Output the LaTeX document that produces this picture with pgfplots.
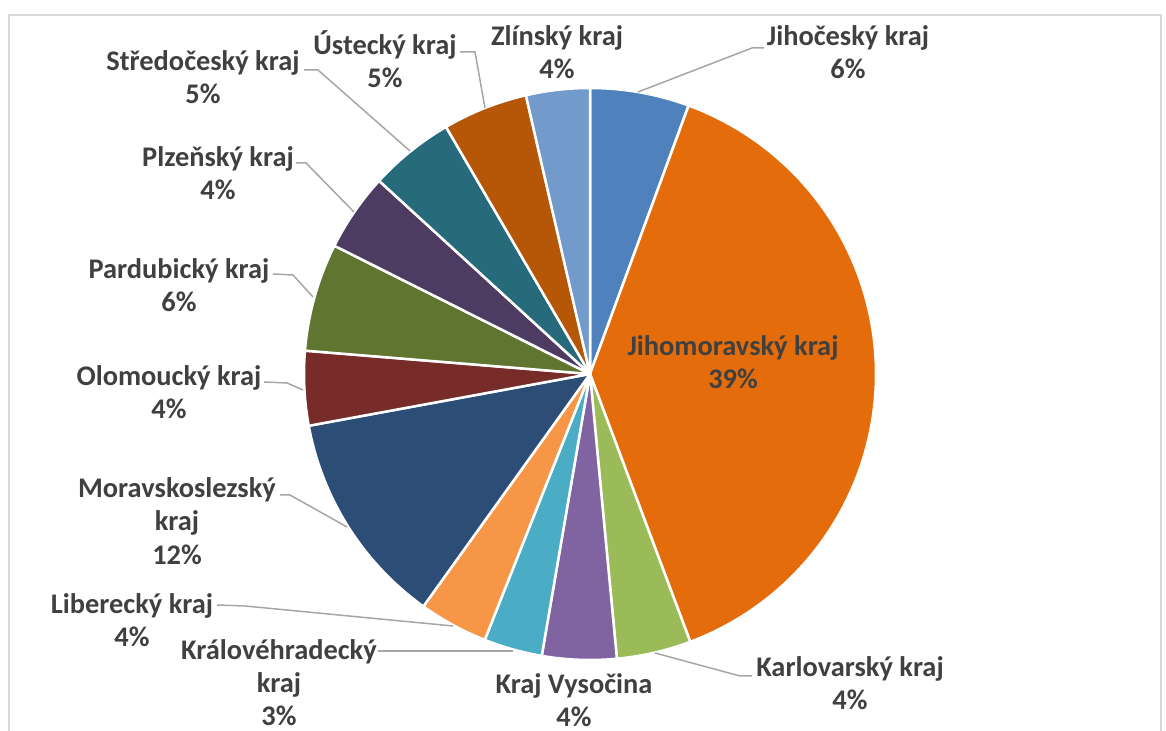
\documentclass[border=0pt]{standalone}
\usepackage{pgfplots}
\usepackage{pgfplotstable}
\pgfplotsset{compat=1.18}
\usepackage{fontspec}
\setmainfont{Carlito}
\definecolor{s0}{HTML}{4F81BD}
\definecolor{s1}{HTML}{E46C0A}
\definecolor{s2}{HTML}{9BBB59}
\definecolor{s3}{HTML}{8064A2}
\definecolor{s4}{HTML}{4BACC6}
\definecolor{s5}{HTML}{F79646}
\definecolor{s6}{HTML}{2C4D75}
\definecolor{s7}{HTML}{772C2A}
\definecolor{s8}{HTML}{5F7530}
\definecolor{s9}{HTML}{4D3B62}
\definecolor{s10}{HTML}{276A7C}
\definecolor{s11}{HTML}{B65708}
\definecolor{s12}{HTML}{729ACA}
\definecolor{txt}{HTML}{404040}
\definecolor{lead}{HTML}{A6A6A6}
\definecolor{frm}{HTML}{D9D9D9}
\tikzset{lbl/.style={font=\fontsize{14.2}{16.6}\selectfont\bfseries,text=txt,align=center,inner sep=0pt},
  ld/.style={draw=lead,line width=0.75pt}}
% share of each region (percent), clockwise from 12 o'clock
\pgfplotstableread{
idx value
0 5.6
1 38.7
2 4.2
3 4.2
4 3.3
5 3.9
6 12.2
7 4.2
8 6.1
9 4.4
10 4.8
11 4.8
12 3.6
}\piedata
\begin{document}
\begin{tikzpicture}
\begin{axis}[x=0.5pt,y=0.5pt,xmin=0,xmax=1166,ymin=0,ymax=731,
  hide axis,clip=false]
\coordinate (bl) at (axis cs:0,0);
\coordinate (tr) at (axis cs:1166,731);
\draw[frm,line width=0.75pt] (axis cs:9,-10) -- (axis cs:9,716) -- (axis cs:1161,716) -- (axis cs:1161,-10);
\gdef\cum{0}
\foreach \i in {0,...,12}{
  \pgfplotstablegetelem{\i}{value}\of{\piedata}
  \let\v\pgfplotsretval
  \pgfmathsetmacro{\a}{90-3.6*\cum}
  \pgfmathsetmacro{\b}{90-3.6*(\cum+\v)}
  \edef\temp{\noexpand\addplot[fill=s\i,draw=white,line width=1.25pt,line join=round,mark=none,domain=\b:\a,samples=90] ({590+286*cos(x)},{357+286*sin(x)}) -- (axis cs:590,357) -- cycle;}
  \temp
  \pgfmathsetmacro{\n}{\cum+\v}
  \xdef\cum{\n}
}
% leader lines
\draw[ld] (axis cs:638,639) -- (axis cs:752,683) -- (axis cs:764,683);
\draw[ld] (axis cs:655,78) -- (axis cs:740,55) -- (axis cs:752,55);
\draw[ld] (axis cs:513,80) -- (axis cs:378,80);
\draw[ld] (axis cs:453,105) -- (axis cs:245,125) -- (axis cs:217,126);
\draw[ld] (axis cs:347,204) -- (axis cs:290,236) -- (axis cs:280,236);
\draw[ld] (axis cs:303,341) -- (axis cs:287,348) -- (axis cs:264,349);
\draw[ld] (axis cs:313,434) -- (axis cs:293,456) -- (axis cs:273,457);
\draw[ld] (axis cs:354,519) -- (axis cs:306,568) -- (axis cs:296,568);
\draw[ld] (axis cs:410,580) -- (axis cs:318,661) -- (axis cs:304,661);
\draw[ld] (axis cs:485,623) -- (axis cs:475,679) -- (axis cs:460,679);
% labels
\node[lbl] at (axis cs:848,678.5) {Jihočeský kraj\\6\%};
\node[lbl] at (axis cs:733,368.5) {Jihomoravský kraj\\39\%};
\node[lbl] at (axis cs:850,47.5) {Karlovarský kraj\\4\%};
\node[lbl] at (axis cs:574,31) {Kraj Vysočina\\4\%};
\node[lbl] at (axis cs:279,48.5) {Královéhradecký\\kraj\\3\%};
\node[lbl] at (axis cs:132,111) {Liberecký kraj\\4\%};
\node[lbl] at (axis cs:177,210) {Moravskoslezský\\kraj\\12\%};
\node[lbl] at (axis cs:169,338.5) {Olomoucký kraj\\4\%};
\node[lbl] at (axis cs:179,445.5) {Pardubický kraj\\6\%};
\node[lbl] at (axis cs:218,557.5) {Plzeňský kraj\\4\%};
\node[lbl] at (axis cs:203,653.5) {Středočeský kraj\\5\%};
\node[lbl] at (axis cs:385,672) {Ústecký kraj\\5\%};
\node[lbl] at (axis cs:557,678.5) {Zlínský kraj\\4\%};
\end{axis}
\pgfresetboundingbox
\path[use as bounding box] (bl) rectangle (tr);
\end{tikzpicture}
\end{document}
